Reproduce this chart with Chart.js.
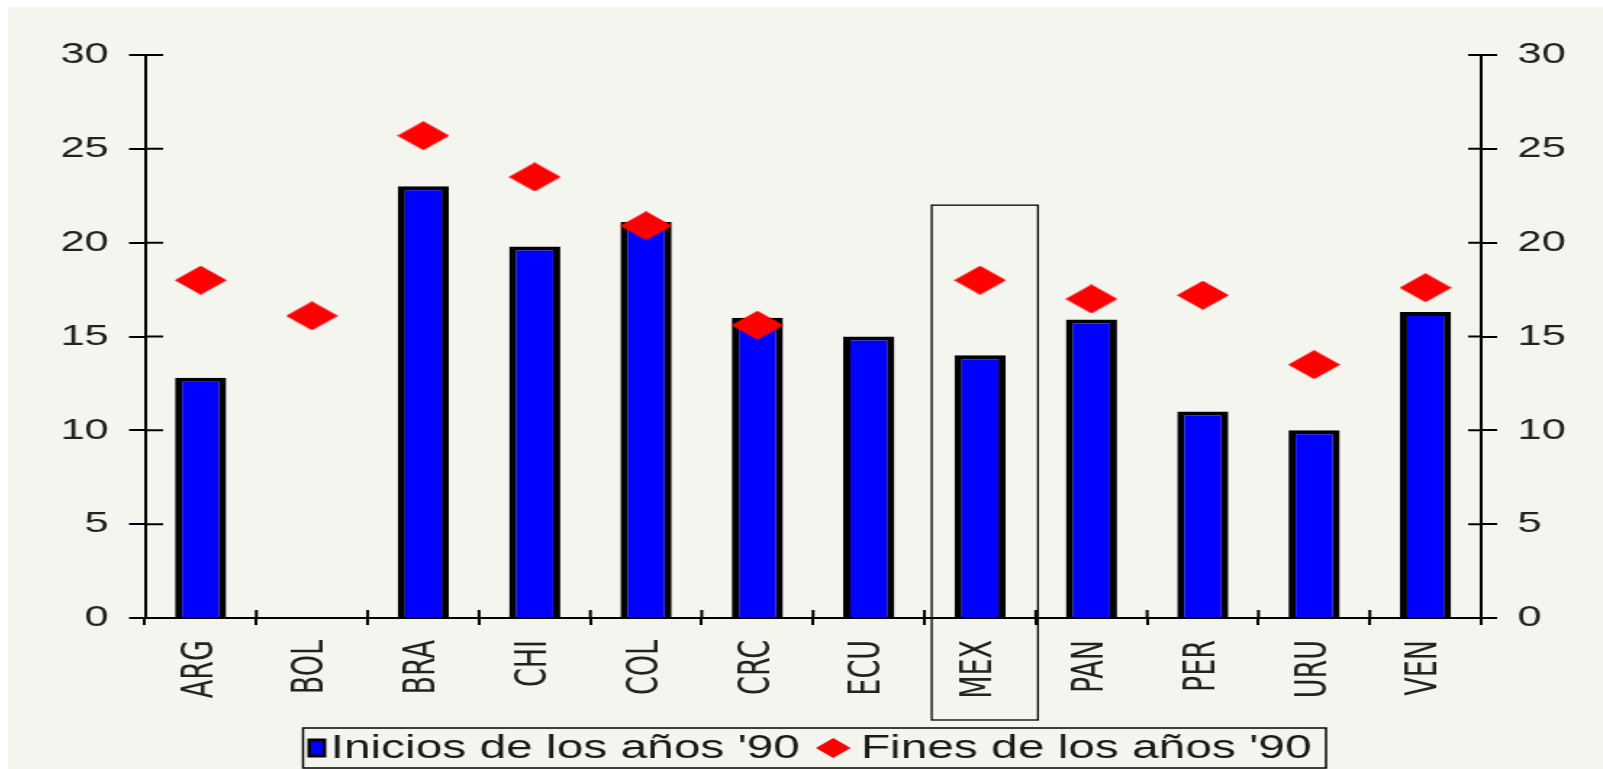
<!DOCTYPE html>
<html><head><meta charset="utf-8">
<script src="https://cdn.jsdelivr.net/npm/chart.js"></script>
<style>
html,body{margin:0;padding:0;background:#fff;width:1603px;height:769px;overflow:hidden}
#c{position:absolute;left:8px;top:7px;background:#F5F5F0}
</style></head><body>
<canvas id="c" width="1100" height="762" style="width:1595px;height:762px"></canvas>
<script>
// ---- data ----
const categories = ['ARG','BOL','BRA','CHI','COL','CRC','ECU','MEX','PAN','PER','URU','VEN'];
const inicios90 = [12.8, null, 23.0, 19.8, 21.1, 16.0, 15.0, 14.0, 15.9, 11.0, 10.0, 16.3];
const fines90   = [18.0, 16.1, 25.7, 23.5, 20.9, 15.6, null, 18.0, 17.0, 17.2, 13.5, 17.6];
const yTicks = [0, 5, 10, 15, 20, 25, 30];
const seriesNames = ["Inicios de los años '90", "Fines de los años '90"];
const highlighted = 'MEX';

function diamond(w, h, color) {
  const c = document.createElement('canvas');
  c.width = w; c.height = h;
  const g = c.getContext('2d');
  g.fillStyle = color;
  g.beginPath();
  g.moveTo(w / 2, 0); g.lineTo(w, h / 2); g.lineTo(w / 2, h); g.lineTo(0, h / 2);
  g.closePath(); g.fill();
  return c;
}
const diamondImg = diamond(36, 29, '#FF0000');

const tickFont = {family: '"Liberation Sans", Arial, sans-serif', size: 30};
const xFont = {family: '"Liberation Sans Narrow", "DejaVu Sans Condensed", "Liberation Sans", sans-serif', size: 30};

const innerTicks = {
  id: 'innerTicks',
  afterDraw(chart) {
    const g = chart.ctx, ca = chart.chartArea;
    const y = chart.scales.y, x = chart.scales.x;
    g.save();
    g.strokeStyle = '#000'; g.lineWidth = 2;
    g.beginPath();
    yTicks.forEach(v => {
      const p = y.getPixelForValue(v);
      g.moveTo(ca.left, p); g.lineTo(ca.left + 12.5, p);
      g.moveTo(ca.right - 9, p); g.lineTo(ca.right, p);
    });
    for (let i = 1; i < categories.length; i++) {
      const p = x.getPixelForValue(i - 0.5);
      g.moveTo(p, ca.bottom - 8); g.lineTo(p, ca.bottom);
    }
    g.stroke();
    g.restore();
  }
};

const highlightBox = {
  id: 'highlightBox',
  afterDraw(chart) {
    const g = chart.ctx, ca = chart.chartArea;
    const x = chart.scales.x, y = chart.scales.y;
    const i = categories.indexOf(highlighted);
    const l = x.getPixelForValue(i - 0.5) + 5;
    const r = x.getPixelForValue(i + 0.5) + 1.5;
    const t = y.getPixelForValue(22);
    const b = ca.bottom + 102;
    g.save();
    g.strokeStyle = '#000'; g.lineWidth = 1.3;
    g.strokeRect(l, t, r - l, b - t);
    g.restore();
  }
};

const boxLegend = {
  id: 'boxLegend',
  afterDraw(chart) {
    const g = chart.ctx, ca = chart.chartArea;
    const ds = chart.data.datasets;
    g.save();
    g.font = '33px "Liberation Sans", Arial, sans-serif';
    const w1 = g.measureText(ds[0].label).width;
    const w2 = g.measureText(ds[1].label).width;
    const padL = 3, m1 = 13, gap1 = 3, sp = 11, m2 = 24, gap2 = 7, padR = 10;
    const total = padL + m1 + gap1 + w1 + sp + m2 + gap2 + w2 + padR;
    const cx = (ca.left + ca.right) / 2 + 1;
    const left = cx - total / 2;
    const top = chart.height - 41, bottom = chart.height - 1;
    const cy = (top + bottom) / 2;
    g.strokeStyle = '#000'; g.lineWidth = 1.5;
    g.strokeRect(left, top, total, bottom - top);
    let xx = left + padL;
    g.fillStyle = '#000';
    g.fillRect(xx, cy - 9.5, m1, 19);
    g.fillStyle = ds[0].backgroundColor;
    g.fillRect(xx + 2.5, cy - 6.5, m1 - 5, 13);
    xx += m1 + gap1;
    g.fillStyle = '#1a1a1a';
    g.textBaseline = 'middle'; g.textAlign = 'left';
    g.fillText(ds[0].label, xx, cy + 1);
    xx += w1 + sp;
    g.fillStyle = '#FF0000';
    g.beginPath();
    g.moveTo(xx + m2 / 2, cy - 10); g.lineTo(xx + m2, cy); g.lineTo(xx + m2 / 2, cy + 10); g.lineTo(xx, cy);
    g.closePath(); g.fill();
    xx += m2 + gap2;
    g.fillStyle = '#1a1a1a';
    g.fillText(ds[1].label, xx, cy + 1);
    g.restore();
  }
};

const yAxisCommon = (pos, width) => ({
  position: pos,
  min: 0, max: 30,
  afterBuildTicks(s) { s.ticks = yTicks.map(v => ({value: v})); },
  ticks: {padding: 14, color: '#222', font: tickFont},
  grid: {drawOnChartArea: false, color: '#000', lineWidth: 2, tickLength: 11},
  border: {color: '#000', width: 2},
  afterFit(s) { s.width = width; }
});

new Chart(document.getElementById('c').getContext('2d'), {
  data: {
    labels: categories,
    datasets: [
      {type: 'bar', label: seriesNames[0], data: inicios90, backgroundColor: '#0000FF',
       borderColor: '#000', borderWidth: {left: 5, right: 5, top: 4, bottom: 0}, borderSkipped: 'start',
       barPercentage: 0.46, categoryPercentage: 1, order: 1, yAxisID: 'y'},
      {type: 'line', label: seriesNames[1], data: fines90, showLine: false,
       pointStyle: diamondImg, pointRadius: 14, pointHoverRadius: 14,
       backgroundColor: '#FF0000', borderColor: '#FF0000', order: 0, yAxisID: 'y'}
    ]
  },
  options: {
    responsive: false, devicePixelRatio: 1, animation: false,
    layout: {padding: {top: 48, left: 0, right: 0, bottom: 0}},
    plugins: {legend: {display: false}, tooltip: {enabled: false}},
    events: [],
    scales: {
      x: {
        offset: true,
        grid: {offset: true, drawOnChartArea: false, color: '#000', lineWidth: 2, tickLength: 7},
        border: {color: '#000', width: 2},
        ticks: {autoSkip: false, maxRotation: 90, minRotation: 90, padding: 15, color: '#222', font: xFont},
        afterFit(s) { s.height = 151; }
      },
      y: yAxisCommon('left', 94.5),
      y2: yAxisCommon('right', 84)
    }
  },
  plugins: [innerTicks, highlightBox, boxLegend]
});
</script>
</body></html>
